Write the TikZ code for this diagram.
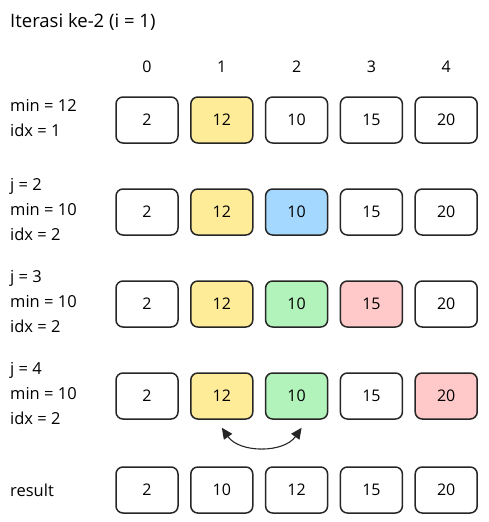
\documentclass[tikz,border=0pt]{standalone}
\usepackage{fontspec}
\setmainfont{Open Sans}
\usepackage{xcolor}
\usetikzlibrary{positioning,arrows.meta}

\definecolor{cellyellow}{HTML}{FFEC99}
\definecolor{cellblue}{HTML}{A5D8FF}
\definecolor{cellgreen}{HTML}{B2F2BB}
\definecolor{cellred}{HTML}{FFC9C9}

\begin{document}
\begin{tikzpicture}[
    x=1pt, y=-1pt,
    cell/.style = {
        rectangle,
        draw=black!85,
        line width=1.5pt,
        rounded corners=7pt,
        minimum width=62pt,
        minimum height=46pt,
        inner sep=0pt,
        font=\fontsize{16}{19}\selectfont,
        fill=white
    },
    pivot/.style  = {cell, fill=cellyellow},
    probe/.style  = {cell, fill=cellblue},
    lowest/.style = {cell, fill=cellgreen},
    bigger/.style = {cell, fill=cellred},
    idxlabel/.style = {font=\fontsize{16}{19}\selectfont, inner sep=0pt},
    varlabel/.style = {anchor=west, align=left, inner sep=0pt,
        font=\fontsize{16.5}{25}\selectfont},
    swaparrow/.style = {{Triangle[length=11pt,width=10pt]}-{Triangle[length=11pt,width=10pt]},
        line width=1.1pt, draw=black!85},
    line cap=round, line join=round
]
\useasboundingbox (0,0) rectangle (488,522);

% Define spacing
\def\colsep{74.8}
\def\rowsep{92}

% Title
\node[anchor=west, inner sep=0pt, font=\fontsize{18.5}{22}\selectfont] (title) at (10,22) {Iterasi ke-2 (i = 1)};

% Index labels
\node[idxlabel] (i0) at (147,67) {0};
\node[idxlabel] (i1) at (147+\colsep,67) {1};
\node[idxlabel] (i2) at (147+2*\colsep,67) {2};
\node[idxlabel] (i3) at (147+3*\colsep,67) {3};
\node[idxlabel] (i4) at (147+4*\colsep,67) {4};

% Row 1: start with min at index 1
\node[varlabel] (v1) at (10,118) {min = 12\\idx = 1};
\node[cell]  (a0) at (147,120) {2};
\node[pivot] (a1) at (147+\colsep,120) {12};
\node[cell]  (a2) at (147+2*\colsep,120) {10};
\node[cell]  (a3) at (147+3*\colsep,120) {15};
\node[cell]  (a4) at (147+4*\colsep,120) {20};

% Row 2: j = 2
\node[varlabel] (v2) at (10,120+\rowsep-2) {j = 2\\min = 10\\idx = 2};
\node[cell]  (b0) at (147,120+\rowsep) {2};
\node[pivot] (b1) at (147+\colsep,120+\rowsep) {12};
\node[probe] (b2) at (147+2*\colsep,120+\rowsep) {10};
\node[cell]  (b3) at (147+3*\colsep,120+\rowsep) {15};
\node[cell]  (b4) at (147+4*\colsep,120+\rowsep) {20};

% Row 3: j = 3
\node[varlabel] (v3) at (10,120+2*\rowsep-2) {j = 3\\min = 10\\idx = 2};
\node[cell]   (c0) at (147,120+2*\rowsep) {2};
\node[pivot]  (c1) at (147+\colsep,120+2*\rowsep) {12};
\node[lowest] (c2) at (147+2*\colsep,120+2*\rowsep) {10};
\node[bigger] (c3) at (147+3*\colsep,120+2*\rowsep) {15};
\node[cell]   (c4) at (147+4*\colsep,120+2*\rowsep) {20};

% Row 4: j = 4
\node[varlabel] (v4) at (10,120+3*\rowsep-2) {j = 4\\min = 10\\idx = 2};
\node[cell]   (d0) at (147,120+3*\rowsep) {2};
\node[pivot]  (d1) at (147+\colsep,120+3*\rowsep) {12};
\node[lowest] (d2) at (147+2*\colsep,120+3*\rowsep) {10};
\node[cell]   (d3) at (147+3*\colsep,120+3*\rowsep) {15};
\node[bigger] (d4) at (147+4*\colsep,120+3*\rowsep) {20};

% Swap index 1 and index 2
\draw[swaparrow] ([xshift=0pt,yshift=-8pt]d1.south) to[bend right=55] ([xshift=5pt,yshift=-8pt]d2.south);

% Result row
\node[varlabel] (v5) at (10,490) {result};
\node[cell] (e0) at (147,490) {2};
\node[cell] (e1) at (147+\colsep,490) {10};
\node[cell] (e2) at (147+2*\colsep,490) {12};
\node[cell] (e3) at (147+3*\colsep,490) {15};
\node[cell] (e4) at (147+4*\colsep,490) {20};

\end{tikzpicture}
\end{document}
